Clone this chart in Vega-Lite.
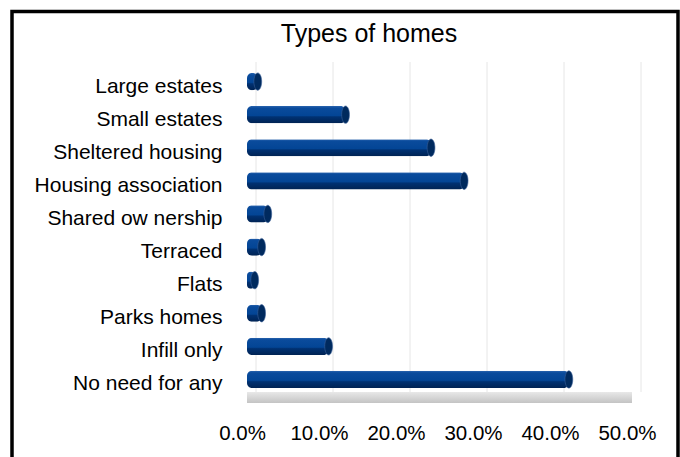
{
  "$schema": "https://vega.github.io/schema/vega-lite/v6.json",
  "width": 680,
  "height": 457,
  "autosize": {"type": "fit", "contains": "padding"},
  "padding": {"left": 12, "top": 11.5, "right": 2, "bottom": -5},
  "background": "white",
  "config": {
    "view": {"stroke": "black", "strokeWidth": 3.5},
    "font": "Liberation Sans"
  },
  "title": {
    "text": "Types of homes",
    "fontSize": 25,
    "fontWeight": "normal",
    "font": "Liberation Sans",
    "color": "black",
    "anchor": "middle",
    "frame": "group",
    "dx": 24,
    "offset": 0,
    "dy": 55,
    "baseline": "alphabetic"
  },
  "datasets": {
    "homes": [
      {"category": "Large estates", "value": 0.014},
      {"category": "Small estates", "value": 0.128},
      {"category": "Sheltered housing", "value": 0.239},
      {"category": "Housing association", "value": 0.282},
      {"category": "Shared ow nership", "value": 0.027},
      {"category": "Terraced", "value": 0.019},
      {"category": "Flats", "value": 0.010},
      {"category": "Parks homes", "value": 0.019},
      {"category": "Infill only", "value": 0.106},
      {"category": "No need for any", "value": 0.418}
    ],
    "grid": [
      {"tick": 0}, {"tick": 0.1}, {"tick": 0.2}, {"tick": 0.3}, {"tick": 0.4}, {"tick": 0.5}
    ],
    "floor": [
      {"start": 0, "end": 0.5, "top": 1, "bottom": 1.033}
    ]
  },
  "layer": [
    {
      "data": {"name": "grid"},
      "mark": {"type": "rule", "color": "#e6e6e6", "strokeWidth": 1, "xOffset": 9},
      "encoding": {
        "x": {
          "field": "tick",
          "type": "quantitative",
          "scale": {"domain": [0, 0.5], "range": [235, 620], "nice": false, "zero": false},
          "axis": {
            "title": null,
            "orient": "bottom",
            "offset": -39,
            "domain": false,
            "ticks": false,
            "grid": false,
            "labelPadding": 0,
            "labelFontSize": 20.5,
            "labelFont": "Liberation Sans",
            "labelColor": "black",
            "labelOffset": -5,
            "labelFlush": false,
            "labelOverlap": false,
            "labelBaseline": "top",
            "format": ".1%",
            "values": [0, 0.1, 0.2, 0.3, 0.4, 0.5]
          }
        },
        "y": {"datum": 0, "type": "quantitative", "scale": {"domain": [0, 1], "range": [50.5, 380.5], "nice": false, "zero": false}, "axis": null},
        "y2": {"datum": 1}
      }
    },
    {
      "data": {"name": "floor"},
      "mark": {
        "type": "rect",
        "color": {
          "gradient": "linear", "x1": 0, "y1": 0, "x2": 0, "y2": 1,
          "stops": [
            {"offset": 0, "color": "#e8e8e8"},
            {"offset": 1, "color": "#c4c4c4"}
          ]
        }
      },
      "encoding": {
        "x": {"field": "start", "type": "quantitative"},
        "x2": {"field": "end"},
        "y": {"field": "top", "type": "quantitative", "scale": {"domain": [0, 1], "range": [50.5, 380.5], "nice": false, "zero": false}, "axis": null},
        "y2": {"field": "bottom"}
      }
    },
    {
      "data": {"name": "homes"},
      "mark": {
        "type": "bar",
        "cornerRadius": 5,
        "color": {
          "gradient": "linear", "x1": 0, "y1": 0, "x2": 0, "y2": 1,
          "stops": [
            {"offset": 0, "color": "#2a64ae"},
            {"offset": 0.12, "color": "#0a4b9c"},
            {"offset": 0.55, "color": "#034595"},
            {"offset": 0.63, "color": "#003172"},
            {"offset": 1, "color": "#002353"}
          ]
        }
      },
      "encoding": {
        "x": {"field": "value", "type": "quantitative"},
        "y": {
          "field": "category",
          "type": "nominal",
          "sort": null,
          "scale": {"range": [53.5, 384.5], "paddingInner": 0.48, "paddingOuter": 0.24},
          "axis": {
            "title": null,
            "orient": "left",
            "offset": -210,
            "domain": false,
            "ticks": false,
            "grid": false,
            "labelPadding": 0,
            "labelFontSize": 21,
            "labelFont": "Liberation Sans",
            "labelColor": "black",
            "labelOffset": 5,
            "labelLimit": 0
          }
        }
      }
    },
    {
      "data": {"name": "homes"},
      "mark": {
        "type": "point",
        "shape": "M0,-1 A0.45,1 0 1,1 0,1 A0.45,1 0 1,1 0,-1 Z",
        "filled": true,
        "fill": "#002a5e",
        "stroke": "#3d6299",
        "strokeWidth": 0.6,
        "size": 300,
        "opacity": 1
      },
      "encoding": {
        "x": {"field": "value", "type": "quantitative"},
        "y": {
          "field": "category",
          "type": "nominal",
          "sort": null,
          "scale": {"range": [53.5, 384.5], "paddingInner": 0.48, "paddingOuter": 0.24},
          "axis": null
        }
      }
    }
  ],
  "resolve": {"scale": {"y": "independent"}}
}
